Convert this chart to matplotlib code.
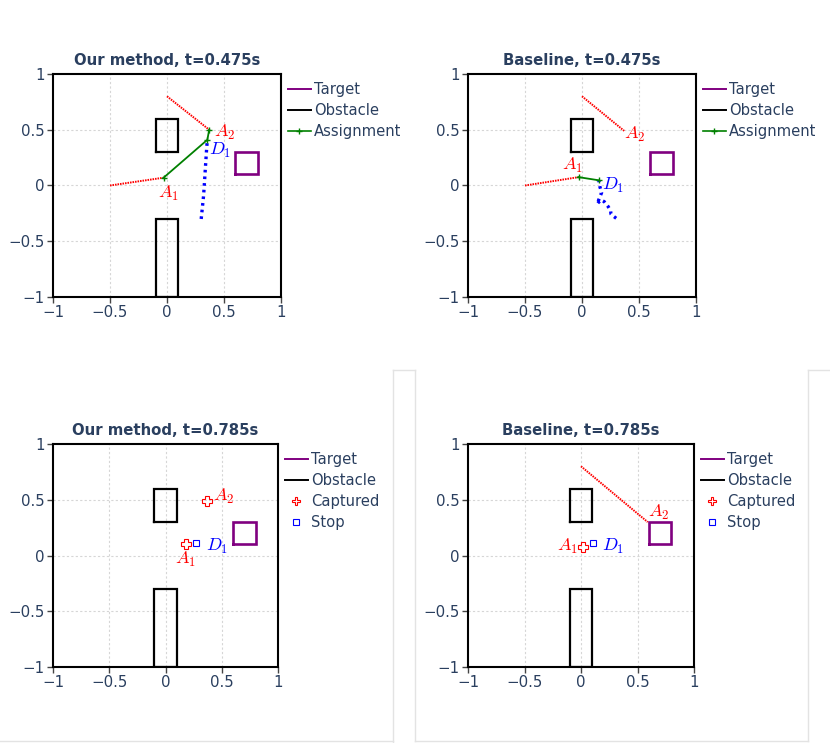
import matplotlib
matplotlib.use('Agg')
import matplotlib.pyplot as plt
from matplotlib.lines import Line2D

plt.rcParams['font.family'] = ['DejaVu Sans']
plt.rcParams['mathtext.fontset'] = 'cm'

TXT = '#2a3f5f'

# scene: (x0, x1, y0, y1)
obstacles = [(-0.1, 0.1, 0.3, 0.6), (-0.1, 0.1, -1.0, -0.3)]
target = (0.6, 0.8, 0.1, 0.3)

# ---- t = 0.475s, our method
ours_a1_x = [-0.5, -0.03]
ours_a1_y = [0.0, 0.07]
ours_a2_x = [0.0, 0.37]
ours_a2_y = [0.8, 0.50]
ours_d1_x = [0.30, 0.31, 0.32, 0.325, 0.33, 0.335, 0.34, 0.345, 0.35, 0.354]
ours_d1_y = [-0.30, -0.20, -0.10, -0.03, 0.05, 0.13, 0.21, 0.29, 0.36, 0.41]
ours_assign_x = [-0.03, 0.354, 0.37]
ours_assign_y = [0.07, 0.41, 0.50]

# ---- t = 0.475s, baseline
base_a1_x = [-0.5, -0.03]
base_a1_y = [0.0, 0.075]
base_a2_x = [0.0, 0.37]
base_a2_y = [0.8, 0.49]
base_d1_x = [0.30, 0.275, 0.254, 0.251, 0.23, 0.21, 0.195, 0.168, 0.142, 0.133, 0.15, 0.172, 0.165, 0.157, 0.148]
base_d1_y = [-0.294, -0.275, -0.256, -0.226, -0.19, -0.165, -0.145, -0.13, -0.154, -0.166, -0.12, -0.064, -0.04, -0.011, 0.043]
base_assign_x = [-0.03, 0.145]
base_assign_y = [0.075, 0.047]

# ---- t = 0.785s
ours_cap_x = [0.18, 0.367]
ours_cap_y = [0.10, 0.49]
ours_stop_x = [0.272]
ours_stop_y = [0.115]

base_a2_late_x = [0.0, 0.59]
base_a2_late_y = [0.8, 0.30]
base_cap_x = [0.022]
base_cap_y = [0.079]
base_stop_x = [0.11]
base_stop_y = [0.115]

W, H = 830, 743
fig = plt.figure(figsize=(W / 100, H / 100), dpi=100)


def make_ax(l, r, t, b):
    return fig.add_axes([l / W, 1 - b / H, (r - l) / W, (b - t) / H])


def rect_xy(r):
    x0, x1, y0, y1 = r
    return [x0, x1, x1, x0, x0], [y0, y0, y1, y1, y0]


def setup(ax, title):
    ax.set_xlim(-1, 1)
    ax.set_ylim(-1, 1)
    ticks = [-1, -0.5, 0, 0.5, 1]
    ax.set_xticks(ticks)
    ax.set_yticks(ticks)
    ax.set_xticklabels(['\u22121', '\u22120.5', '0', '0.5', '1'])
    ax.set_yticklabels(['\u22121', '\u22120.5', '0', '0.5', '1'])
    ax.tick_params(direction='out', length=4, width=1, colors='#444444',
                   labelcolor=TXT, labelsize=10.8, pad=2)
    for s in ax.spines.values():
        s.set_linewidth(1.5)
        s.set_color('black')
    for v in [-0.5, 0, 0.5]:
        ax.axvline(v, color='#d6d6d6', lw=0.8, ls=(0, (2, 2)), zorder=0)
        ax.axhline(v, color='#d6d6d6', lw=0.8, ls=(0, (2, 2)), zorder=0)
    ax.set_title(title, fontsize=10.7, fontweight='bold', color=TXT, pad=6.5)
    for ob in obstacles:
        xs, ys = rect_xy(ob)
        ax.plot(xs, ys, color='black', lw=1.6, solid_joinstyle='miter')
    xs, ys = rect_xy(target)
    ax.plot(xs, ys, color='purple', lw=1.9, solid_joinstyle='miter')


def lab(ax, x, y, s, c):
    ax.text(x, y, s, color=c, fontsize=13, ha='center', va='center')


def legend(ax, kind):
    hs = [Line2D([], [], color='purple', lw=1.4),
          Line2D([], [], color='black', lw=1.4)]
    names = ['Target', 'Obstacle']
    if kind == 'assign':
        hs.append(Line2D([], [], color='green', lw=1.2, marker='+', ms=4))
        names.append('Assignment')
    else:
        hs.append(Line2D([], [], ls='none', marker='P', ms=6, mfc='none', mec='red', mew=0.8))
        hs.append(Line2D([], [], ls='none', marker='s', ms=4.5, mfc='none', mec='blue', mew=0.8))
        names += ['Captured', 'Stop']
    lg = ax.legend(hs, names, loc='upper left', bbox_to_anchor=(1.03, 0.962),
                   frameon=False, fontsize=10.6, handlelength=1.55, handletextpad=0.25,
                   labelspacing=0.4, borderpad=0, borderaxespad=0)
    for t in lg.get_texts():
        t.set_color(TXT)


red_dot = dict(color='red', lw=1.4, ls=(0, (0.8, 0.5)))
blue_dot = dict(color='blue', lw=2.4, ls=(0, (0.8, 1.2)), dash_capstyle='butt')

# top left
ax = make_ax(53, 281, 74, 297)
setup(ax, 'Our method, t=0.475s')
ax.plot(ours_a1_x, ours_a1_y, **red_dot)
ax.plot(ours_a2_x, ours_a2_y, **red_dot)
ax.plot(ours_d1_x, ours_d1_y, **blue_dot)
ax.plot(ours_assign_x, ours_assign_y, color='green', lw=1.3, marker='+', ms=4)
lab(ax, 0.013, -0.07, '$A_1$', 'red')
lab(ax, 0.51, 0.48, '$A_2$', 'red')
lab(ax, 0.465, 0.31, '$D_1$', 'blue')
legend(ax, 'assign')

# top right
ax = make_ax(468, 696, 74, 297)
setup(ax, 'Baseline, t=0.475s')
ax.plot(base_a1_x, base_a1_y, **red_dot)
ax.plot(base_a2_x, base_a2_y, **red_dot)
ax.plot(base_d1_x, base_d1_y, **blue_dot)
ax.plot(base_assign_x, base_assign_y, color='green', lw=1.3, marker='+', ms=4)
lab(ax, -0.08, 0.18, '$A_1$', 'red')
lab(ax, 0.46, 0.46, '$A_2$', 'red')
lab(ax, 0.27, 0.0, '$D_1$', 'blue')
legend(ax, 'assign')

# bottom left
ax = make_ax(53, 278, 444, 667)
setup(ax, 'Our method, t=0.785s')
ax.plot(ours_cap_x, ours_cap_y, ls='none', marker='P', ms=7, mfc='none', mec='red', mew=0.8)
ax.plot(ours_stop_x, ours_stop_y, ls='none', marker='s', ms=5, mfc='none', mec='blue', mew=0.8)
lab(ax, 0.515, 0.53, '$A_2$', 'red')
lab(ax, 0.175, -0.04, '$A_1$', 'red')
lab(ax, 0.455, 0.08, '$D_1$', 'blue')
legend(ax, 'capture')

# bottom right
ax = make_ax(468, 694, 444, 667)
setup(ax, 'Baseline, t=0.785s')
ax.plot(base_a2_late_x, base_a2_late_y, **red_dot)
ax.plot(base_cap_x, base_cap_y, ls='none', marker='P', ms=7, mfc='none', mec='red', mew=0.8)
ax.plot(base_stop_x, base_stop_y, ls='none', marker='s', ms=5, mfc='none', mec='blue', mew=0.8)
lab(ax, 0.69, 0.39, '$A_2$', 'red')
lab(ax, -0.12, 0.08, '$A_1$', 'red')
lab(ax, 0.28, 0.08, '$D_1$', 'blue')
legend(ax, 'capture')

# faint panel edges from the screenshot
edge = dict(color='#e3e3e3', lw=1.0, transform=fig.transFigure)
for xs, ys in [([393, 393], [370, 743]), ([393, 415], [370, 370]), ([415, 415], [370, 741]),
               ([808, 808], [370, 741]), ([808, 830], [370, 370]),
               ([0, 393], [741, 741]), ([415, 808], [741, 741])]:
    fig.add_artist(Line2D([x / W for x in xs], [1 - y / H for y in ys], **edge))

fig.savefig('out.png', dpi=100)
